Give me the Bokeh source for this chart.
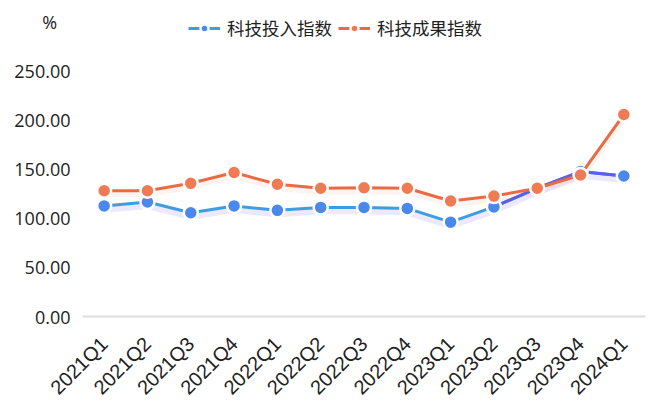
from bokeh.plotting import figure
from bokeh.embed import file_html
from bokeh.resources import INLINE
from bokeh.models import (ColumnDataSource, FixedTicker, CustomJSTickFormatter,
                          Legend, LegendItem, Range1d, Dodge)
from math import pi

quarters = ['2021Q1', '2021Q2', '2021Q3', '2021Q4', '2022Q1', '2022Q2', '2022Q3',
            '2022Q4', '2023Q1', '2023Q2', '2023Q3', '2023Q4', '2024Q1']
input_index = [112.5, 116.5, 105.5, 112.5, 108.0, 111.0, 111.0, 110.0, 96.0,
               111.5, 130.5, 147.5, 143.0]
output_index = [128.0, 128.0, 135.5, 146.5, 134.5, 130.5, 131.0, 130.5, 117.5,
                122.5, 130.5, 144.0, 205.5]
y_ticks = [0, 50, 100, 150, 200, 250]
unit_label = '%'
unit_tick = 300  # the unit caption sits on the axis, above the last tick

BLUE_LINE = '#3d9de2'
BLUE_LINE_END = '#5b5fe8'
BLUE_DOT = '#4a88ee'
ORANGE_LINE = '#ea6b43'
ORANGE_DOT = '#f07a52'

src = ColumnDataSource(data=dict(q=quarters, a=input_index, b=output_index))
# the blue line turns violet on its last stretch
tail = ColumnDataSource(data=dict(q=quarters[9:], a=input_index[9:]))

p = figure(frame_width=563, frame_height=304, x_range=quarters,
           y_range=Range1d(0, 309.3),
           output_backend='svg', toolbar_location=None,
           min_border_left=82, min_border_right=15, min_border_top=12,
           min_border_bottom=80)
p.outline_line_color = None
p.background_fill_color = 'white'
p.border_fill_color = 'white'
p.xgrid.grid_line_color = None
p.ygrid.grid_line_color = None

# soft glow under the lines
shadow = Dodge(value=-3)
p.line('q', {'field': 'a', 'transform': shadow}, source=src,
       line_color='#7a5cf0', line_width=8, line_alpha=0.14)
p.line('q', {'field': 'b', 'transform': shadow}, source=src,
       line_color='#f08a60', line_width=7, line_alpha=0.10)

la = p.line('q', 'a', source=src, line_color=BLUE_LINE, line_width=3)
p.line('q', 'a', source=tail, line_color=BLUE_LINE_END, line_width=3)
ca = p.scatter('q', 'a', source=src, size=14, fill_color=BLUE_DOT,
               line_color='white', line_width=2.5)
lb = p.line('q', 'b', source=src, line_color=ORANGE_LINE, line_width=3)
cb = p.scatter('q', 'b', source=src, size=14, fill_color=ORANGE_DOT,
               line_color='white', line_width=2.5)

p.yaxis.ticker = FixedTicker(ticks=y_ticks + [unit_tick])
p.yaxis.formatter = CustomJSTickFormatter(
    args=dict(unit=unit_label, at=unit_tick),
    code="return tick == at ? unit + '\\u2007\\u2009' : tick.toFixed(2)")
p.yaxis.axis_line_color = None
p.yaxis.major_tick_line_color = None
p.yaxis.minor_tick_line_color = None
p.yaxis.major_tick_out = 0
p.yaxis.major_label_text_font = 'Open Sans'
p.yaxis.major_label_text_font_size = '18px'
p.yaxis.major_label_text_color = '#222222'
p.yaxis.major_label_standoff = 12

p.xaxis.axis_line_color = '#dddddd'
p.xaxis.axis_line_width = 2
p.xaxis.major_tick_line_color = None
p.xaxis.minor_tick_line_color = None
p.xaxis.major_tick_out = 0
p.xaxis.major_label_orientation = pi / 4
p.xaxis.major_label_text_font = 'Liberation Sans'
p.xaxis.major_label_text_font_size = '20px'
p.xaxis.major_label_text_color = '#222222'
p.xaxis.major_label_standoff = 24

legend = Legend(items=[LegendItem(label='科技投入指数', renderers=[la, ca]),
                       LegendItem(label='科技成果指数', renderers=[lb, cb])],
                location=(106, 276), orientation='horizontal',
                border_line_color=None, background_fill_alpha=0,
                label_text_font='Noto Sans CJK SC', label_text_font_size='17.5px',
                label_text_color='#222222', glyph_width=32, spacing=6,
                label_standoff=7, padding=0, margin=0)
p.add_layout(legend)

open("out.html", "w").write(file_html(p, INLINE))
